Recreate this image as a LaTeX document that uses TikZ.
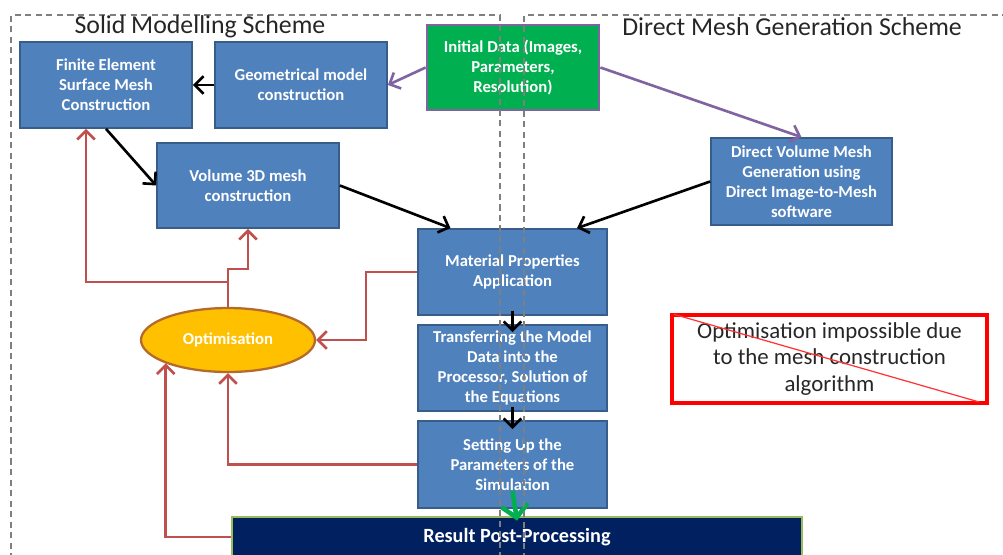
\documentclass[tikz,border=0pt]{standalone}
\usepackage{fontspec}
\setmainfont{Carlito}
\usetikzlibrary{shapes.geometric,arrows.meta,calc}
\definecolor{boxblue}{HTML}{4F81BD}
\definecolor{boxedge}{HTML}{385D8A}
\definecolor{datagreen}{HTML}{00B050}
\definecolor{lilac}{HTML}{8064A2}
\definecolor{loopred}{HTML}{C0504D}
\definecolor{optfill}{HTML}{FFC000}
\definecolor{optedge}{HTML}{B46A2C}
\definecolor{resnavy}{HTML}{002060}
\definecolor{resedge}{HTML}{9BBB59}
\definecolor{dashgray}{HTML}{7F7F7F}
\definecolor{titlegray}{HTML}{262626}
\begin{document}
\begin{tikzpicture}[x=0.02cm,y=-0.02cm,
  blk/.style={draw=boxedge,line width=1pt,fill=boxblue,text=white,align=center,
    font=\bfseries\fontsize{9.5}{11.3}\selectfont,inner sep=1pt},
  tip/.style={-{Straight Barb[length=5pt,width=10pt]}},
  flow/.style={tip,black,line width=1.5pt},
  feed/.style={tip,lilac,line width=1.5pt},
  back/.style={tip,loopred,line width=1.5pt},
  scheme/.style={dashgray,line width=1.4pt,dash pattern=on 3.5pt off 2.5pt},
  title/.style={text=titlegray,font=\fontsize{14.7}{17}\selectfont}]
  \useasboundingbox (0,0) rectangle (1003,554);

  % boxes
  \node[blk,minimum width=3.44cm,minimum height=1.72cm] (fem) at (106,85)
    {Finite Element\\Surface Mesh\\Construction};
  \node[blk,minimum width=3.44cm,minimum height=1.72cm] (geom) at (301,85)
    {Geometrical model\\construction};
  \node[blk,fill=datagreen,draw=lilac,line width=1.6pt,minimum width=3.44cm,minimum height=1.7cm]
    (init) at (513,67.5) {Initial Data (Images,\\Parameters,\\Resolution)};
  \node[blk,minimum width=3.64cm,minimum height=1.7cm] (vol) at (248,185.5)
    {Volume 3D mesh\\construction};
  \node[blk,minimum width=3.62cm,minimum height=1.74cm] (direct) at (801.5,181.5)
    {Direct Volume Mesh\\Generation using\\Direct Image-to-Mesh\\software};
  \node[blk,minimum width=3.78cm,minimum height=1.72cm] (mat) at (512.5,272)
    {Material Properties\\Application};
  \node[blk,minimum width=3.78cm,minimum height=1.72cm] (trans) at (512.5,368)
    {Transferring the Model\\Data into the\\Processor, Solution of\\the Equations};
  \node[blk,minimum width=3.78cm,minimum height=1.74cm] (setup) at (512.5,464.5)
    {Setting Up the\\Parameters of the\\Simulation};
  \node[blk,fill=resnavy,draw=resedge,line width=1.6pt,font=\bfseries\fontsize{11.5}{13}\selectfont,
    minimum width=11.4cm,minimum height=0.8cm] (result) at (517,537) {Result Post-Processing};
  \node[ellipse,draw=optedge,line width=1.3pt,fill=optfill,text=white,font=\bfseries\fontsize{9.5}{11}\selectfont,
    minimum width=3.48cm,minimum height=1.28cm,inner sep=0pt] (opt) at (228,340) {Optimisation};
  \node[draw=red,line width=2pt,align=center,text=titlegray,font=\fontsize{13}{15}\selectfont,
    minimum width=6.3cm,minimum height=1.76cm] (note) at (829.5,359)
    {Optimisation impossible due\\to the mesh construction\\algorithm};
  \draw[red!80,line width=0.7pt,shorten <=2pt,shorten >=6pt] (note.north west) -- (note.south east);

  % black and purple flow
  \draw[flow] (geom) -- (fem);
  \draw[feed] (init.west) -- (geom.east);
  \draw[feed] (init.east) -- (direct.north);
  \draw[flow] (fem.south) -- (vol.west);
  \draw[flow] (vol.east) -- ($(mat.north)+(-62,0)$);
  \draw[flow] (direct.west) -- ($(mat.north)+(64.5,0)$);
  \draw[flow] ($(mat.south)+(0,-5)$) -- ($(trans.north)+(0,8)$);
  \draw[flow] ($(trans.south)+(0,-5)$) -- ($(setup.north)+(0,9)$);
  \draw[-{Straight Barb[length=7pt,width=15pt]},datagreen,line width=2.6pt]
    ($(setup.south)+(0,-18)$) -- ($(result.north)+(0,5)$);

  % optimisation loops
  \draw[back] (opt.north) -- ++(0,-38) -| (vol.south);
  \draw[back] ($(opt.north)+(0,-25)$) -| ($(fem.south)+(-20,0)$);
  \draw[back] (mat.west) -- ++(-51,0) |- (opt.east);
  \draw[back] (setup.west) -| (opt.south);
  \draw[back] (result.west) -| (opt.south west);

  % the two schemes
  \draw[scheme] (11,570) -- (11,15) -- (500,15) -- (500,570);
  \draw[scheme] (524,570) -- (524,15) -- (1010,15);
  \node[title] (solid) at (200,27) {Solid Modelling Scheme};
  \node[title] (direct title) at (792,27) {Direct Mesh Generation Scheme};
\end{tikzpicture}
\end{document}
